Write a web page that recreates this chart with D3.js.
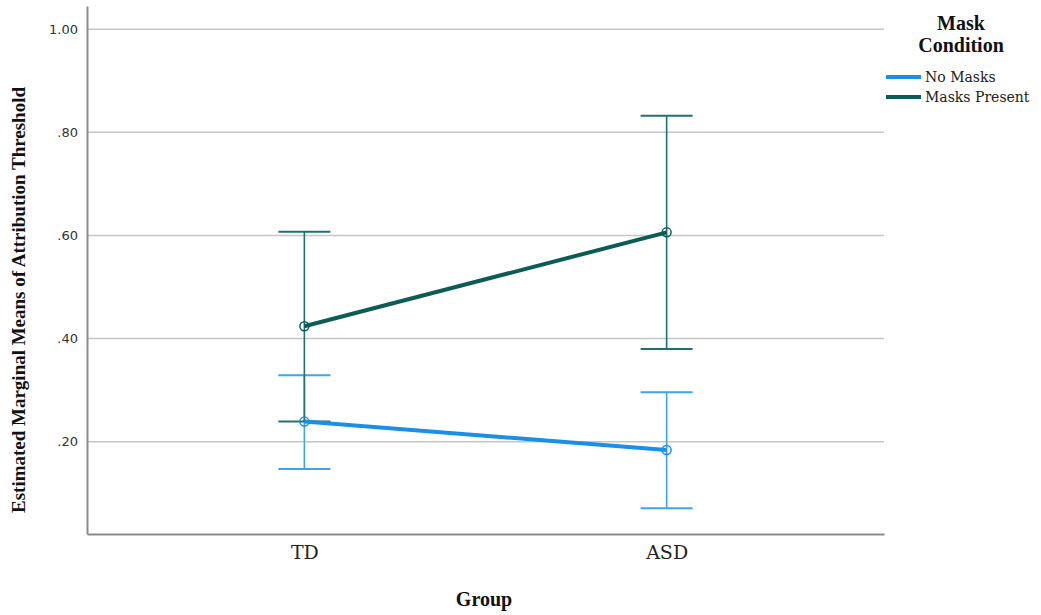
<!DOCTYPE html>
<html>
<head>
<meta charset="utf-8">
<script src="https://cdn.jsdelivr.net/npm/d3@7"></script>
<style>
  html, body { margin: 0; padding: 0; background: #fff; }
  svg { display: block; }
</style>
</head>
<body>
<script>
// Data
const groups = ['TD', 'ASD'];
const conditions = ['No Masks', 'Masks Present'];
const means = {
  'No Masks': [0.239, 0.184],
  'Masks Present': [0.424, 0.606]
};
const lower = {
  'No Masks': [0.147, 0.071],
  'Masks Present': [0.239, 0.380]
};
const upper = {
  'No Masks': [0.329, 0.296],
  'Masks Present': [0.607, 0.832]
};
const yTicks = [0.2, 0.4, 0.6, 0.8, 1.0];

const lineColors = { 'No Masks': '#1a8fe6', 'Masks Present': '#0b5c55' };
const barColors = { 'No Masks': '#3fa3ee', 'Masks Present': '#1f726b' };

const W = 1041, H = 615;
const margin = { top: 6, right: 157, bottom: 81, left: 87 };
const width = W - margin.left - margin.right;
const height = H - margin.top - margin.bottom;

const svg = d3.select('body').append('svg')
  .attr('width', W)
  .attr('height', H);

const g = svg.append('g')
  .attr('transform', `translate(${margin.left},${margin.top})`);

// Scales
const x = d3.scalePoint()
  .domain(groups)
  .range([0, width])
  .padding(0.6);

const y = d3.scaleLinear()
  .domain([0.021, 1.045])
  .range([height, 0]);

// Grid lines
g.append('g')
  .selectAll('line')
  .data(yTicks)
  .join('line')
  .attr('x1', 0)
  .attr('x2', width)
  .attr('y1', d => y(d))
  .attr('y2', d => y(d))
  .attr('stroke', '#c6c6c6')
  .attr('stroke-width', 1.5);

// Y axis
const yAxis = g.append('g')
  .call(d3.axisLeft(y)
    .tickValues(yTicks)
    .tickSize(0)
    .tickPadding(9)
    .tickFormat(d => d3.format('.2f')(d).replace(/^0/, '')));
yAxis.select('.domain').attr('stroke', '#8a8a8a').attr('stroke-width', 2);
yAxis.selectAll('text')
  .style('font-family', '"DejaVu Sans", sans-serif')
  .style('font-size', '13px')
  .style('fill', '#333');

// X axis
const xAxis = g.append('g')
  .attr('transform', `translate(0,${height})`)
  .call(d3.axisBottom(x).tickSize(0).tickPadding(12));
xAxis.select('.domain').attr('stroke', '#8a8a8a').attr('stroke-width', 2);
xAxis.selectAll('text')
  .style('font-family', '"DejaVu Serif", serif')
  .style('font-size', '19px')
  .style('fill', '#222');

// Error bars
const capHalf = 26;
conditions.forEach(c => {
  const eb = g.append('g');
  groups.forEach((grp, i) => {
    const cx = x(grp);
    eb.append('line')
      .attr('x1', cx).attr('x2', cx)
      .attr('y1', y(lower[c][i])).attr('y2', y(upper[c][i]))
      .attr('stroke', barColors[c]).attr('stroke-width', 1.6);
    [lower[c][i], upper[c][i]].forEach(v => {
      eb.append('line')
        .attr('x1', cx - capHalf).attr('x2', cx + capHalf)
        .attr('y1', y(v)).attr('y2', y(v))
        .attr('stroke', barColors[c]).attr('stroke-width', 2);
    });
  });
});

// Lines and markers
const line = d3.line()
  .x((d, i) => x(groups[i]))
  .y(d => y(d));

conditions.forEach(c => {
  g.append('path')
    .datum(means[c])
    .attr('fill', 'none')
    .attr('stroke', lineColors[c])
    .attr('stroke-width', 4)
    .attr('d', line);

  g.selectAll(null)
    .data(means[c])
    .join('circle')
    .attr('cx', (d, i) => x(groups[i]))
    .attr('cy', d => y(d))
    .attr('r', 4.5)
    .attr('fill', 'none')
    .attr('stroke', lineColors[c])
    .attr('stroke-width', 1.5);
});

// Axis titles
svg.append('text')
  .attr('transform', `translate(25,${margin.top + 294}) rotate(-90)`)
  .attr('text-anchor', 'middle')
  .attr('textLength', 426)
  .attr('lengthAdjust', 'spacingAndGlyphs')
  .style('font-family', '"Liberation Serif", serif')
  .style('font-weight', 'bold')
  .style('font-size', '19px')
  .style('fill', '#111')
  .text('Estimated Marginal Means of Attribution Threshold');

svg.append('text')
  .attr('x', 484)
  .attr('y', 606)
  .attr('text-anchor', 'middle')
  .style('font-family', '"Liberation Serif", serif')
  .style('font-weight', 'bold')
  .style('font-size', '20px')
  .style('fill', '#111')
  .text('Group');

// Legend
const legend = svg.append('g');
legend.append('text')
  .attr('x', 961).attr('y', 30)
  .attr('text-anchor', 'middle')
  .style('font-family', '"Liberation Serif", serif')
  .style('font-weight', 'bold')
  .style('font-size', '20px')
  .style('fill', '#111')
  .text('Mask');
legend.append('text')
  .attr('x', 961).attr('y', 52)
  .attr('text-anchor', 'middle')
  .style('font-family', '"Liberation Serif", serif')
  .style('font-weight', 'bold')
  .style('font-size', '20px')
  .style('fill', '#111')
  .text('Condition');

const items = legend.selectAll('g.item')
  .data(conditions)
  .join('g')
  .attr('class', 'item')
  .attr('transform', (d, i) => `translate(886,${77 + i * 20})`);
items.append('line')
  .attr('x1', 0).attr('x2', 35)
  .attr('stroke', d => lineColors[d])
  .attr('stroke-width', 4);
items.append('text')
  .attr('x', 39).attr('y', 5)
  .style('font-family', '"DejaVu Serif", serif')
  .style('font-size', '14px')
  .style('fill', '#222')
  .text(d => d);
</script>
</body>
</html>
